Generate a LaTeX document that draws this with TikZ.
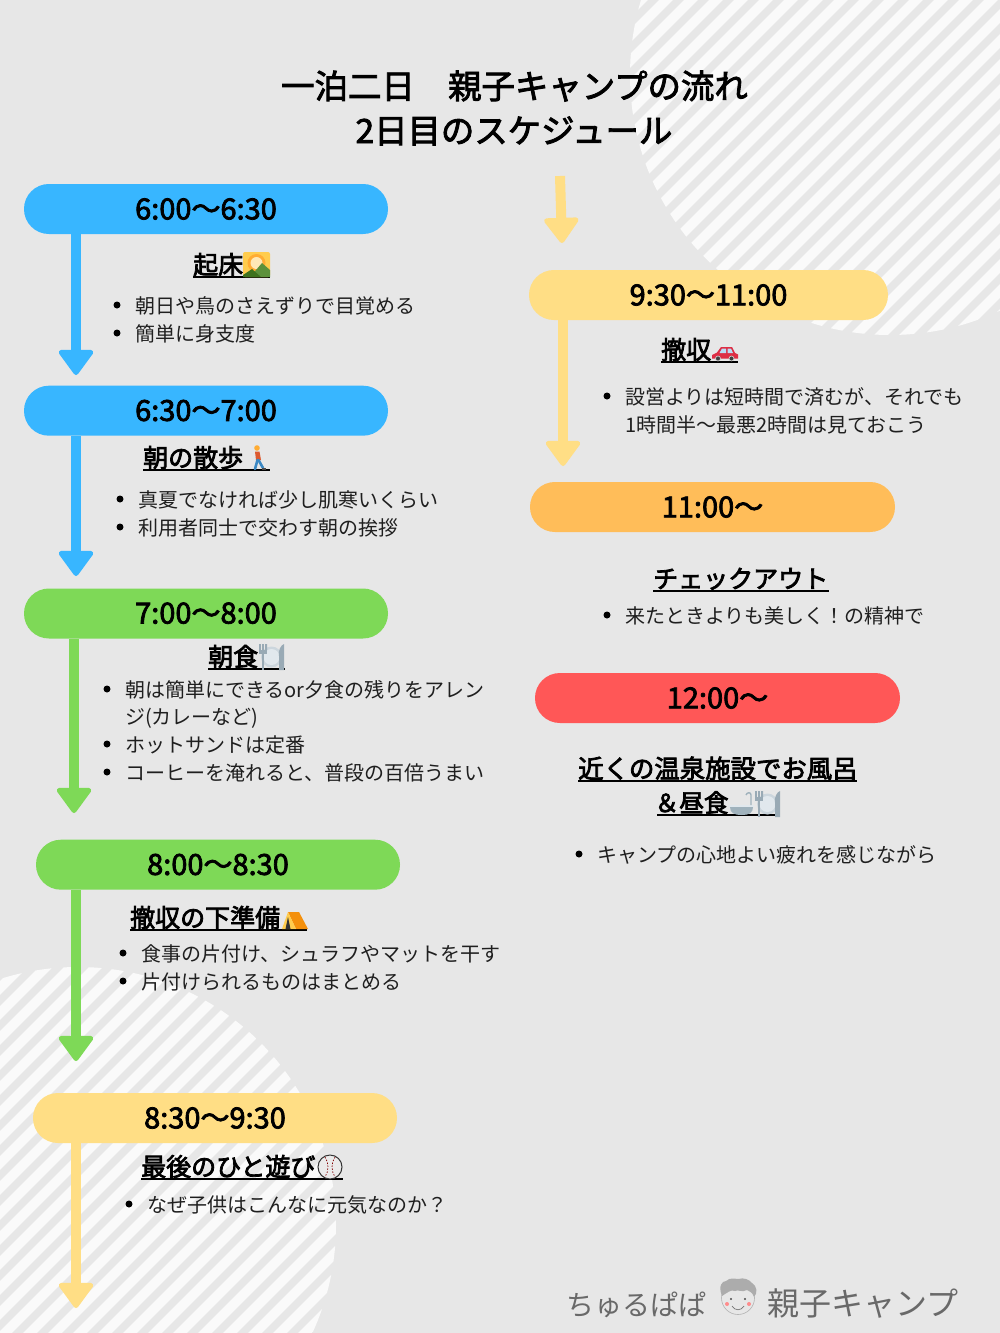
\documentclass[tikz,border=0pt]{standalone}
\usepackage{fontspec}
\usetikzlibrary{arrows.meta}
\setmainfont{Noto Sans CJK JP}
\newfontfamily\jpb{Noto Sans CJK JP}[FakeBold=3]
\newfontfamily\jpm{Noto Sans CJK JP}[FakeBold=2.6]
\newfontfamily\jpr{Noto Sans CJK JP}
\definecolor{bgc}{HTML}{E7E7E7}
\definecolor{stripec}{HTML}{FAFAFA}
\definecolor{cblue}{HTML}{38B6FF}
\definecolor{cgreen}{HTML}{7ED957}
\definecolor{cyellow}{HTML}{FFDE85}
\definecolor{corange}{HTML}{FFBD59}
\definecolor{cred}{HTML}{FF5757}
\definecolor{logoc}{HTML}{696969}
\definecolor{cutl}{HTML}{99AAB5}
\definecolor{platea}{HTML}{CCD6DD}
\definecolor{plateb}{HTML}{E1E8ED}
\definecolor{esun}{HTML}{FFCC4D}
\definecolor{eray}{HTML}{FFAC33}
\definecolor{epale}{HTML}{FFE8B6}
\definecolor{ehilla}{HTML}{5C913B}
\definecolor{ehillb}{HTML}{3E721D}
\definecolor{ewalk}{HTML}{DD5A2F}
\definecolor{eblue}{HTML}{3B88C3}
\definecolor{etent}{HTML}{F4900C}
\definecolor{ecar}{HTML}{DD2E44}
\definecolor{ewin}{HTML}{BBDDF5}
\definecolor{ebath}{HTML}{A0B2BC}
\tikzset{
  pill/.style={rectangle,rounded corners=24.9pt,minimum width=364pt,minimum height=50pt,inner sep=0pt,font=\jpm\fontsize{29}{30}\selectfont},
  flow/.style={line width=10pt,-{Triangle[round,length=27pt,width=38pt,line width=5pt]}},
  head/.style={anchor=base west,inner sep=0pt,font=\jpb\fontsize{25}{28}\selectfont},
  body/.style={anchor=base west,inner sep=0pt,text=black!88,font=\jpr\fontsize{20}{24}\selectfont},
  dotn/.style={circle,fill=black,inner sep=0pt,minimum size=7pt},
  titlet/.style={inner sep=0pt,font=\jpm\fontsize{33.4}{36}\selectfont},
  logot/.style={anchor=base west,inner sep=0pt,text=logoc},
  stripe/.style={stripec,line width=9.8pt}
}
\newcommand\hul[2]{\rlap{\rule[-4pt]{#1pt}{1.7pt}}#2}
\newcommand\bitem[5]{\node[dotn] (#1d) at (#2,#4) {};\node[body] (#1) at (#3,#4+8) {#5};}
\newcommand\plateico[2]{%
  \begin{scope}[shift={(#1,#2)}]
    \fill[platea] (13.5,657) circle (10.5);
    \fill[plateb] (13.5,657) circle (8);
    \fill[cutl] (1,644) rectangle (2.8,650) (4.1,644) rectangle (5.9,650) (7.2,644) rectangle (9,650);
    \fill[cutl] (1,650) rectangle (9,654);
    \fill[cutl] (3.7,653) rectangle (6.3,670);
    \fill[cutl] (21,670) -- (21,656) .. controls (20,650) and (23,645) .. (26,644) -- (26,670) -- cycle;
  \end{scope}}
\begin{document}
\begin{tikzpicture}[x=1pt,y=-1pt]
\useasboundingbox (0,0) rectangle (1000,1333);
\fill[bgc] (0,0) rectangle (1000,1333);
% striped discs
\begin{scope}
  \clip (0,0) rectangle (1000,1333);
  \begin{scope}
    \clip (890,75) circle (260);
    \foreach \cc in {591,616,...,1391} \draw[stripe] (\cc+100,-100) -- (\cc-500,500);
  \end{scope}
  \begin{scope}
    \clip (78,1225) circle (258);
    \foreach \cc in {788,813,...,1788} \draw[stripe] (\cc-700,700) -- (\cc-1700,1700);
  \end{scope}
\end{scope}
% title
\node[titlet] (title1) at (514.5,86) {一泊二日　親子キャンプの流れ};
\node[titlet] (title2) at (514,131) {2日目のスケジュール};
% pills
\node[pill,fill=cblue] (p1) at (206,209) {6:00〜6:30};
\node[pill,fill=cblue] (p2) at (206,410.7) {\raisebox{.7pt}{6:30〜7:00}};
\node[pill,fill=cgreen] (p3) at (206,613.5) {\raisebox{1pt}{7:00〜8:00}};
\node[pill,fill=cgreen] (p4) at (218,864.7) {\raisebox{.7pt}{8:00〜8:30}};
\node[pill,fill=cyellow] (p5) at (215,1118) {8:30〜9:30};
\node[pill,fill=cyellow,minimum width=359pt] (p6) at (708.5,295) {9:30〜11:00};
\node[pill,fill=corange,minimum width=365pt] (p7) at (712.5,507) {11:00〜};
\node[pill,fill=cred,minimum width=365pt] (p8) at (717.5,698) {12:00〜};
% connectors
\coordinate (e1) at (76,375);
\coordinate (e2) at (76,576);
\coordinate (e3) at (74,813);
\coordinate (e4) at (76,1061);
\coordinate (e5) at (76,1308);
\coordinate (s6) at (560,176);
\coordinate (e6) at (562,243);
\coordinate (e7) at (563,466);
\draw[flow,cblue] (p1.south -| e1) -- (e1);
\draw[flow,cblue] (p2.south -| e2) -- (e2);
\draw[flow,cgreen] (p3.south -| e3) -- (e3);
\draw[flow,cgreen] (p4.south -| e4) -- (e4);
\draw[flow,cyellow] (p5.south -| e5) -- (e5);
\draw[flow,cyellow] (s6) -- (e6);
\draw[flow,cyellow] (p6.south -| e7) -- (e7);
% headings
\node[head] (h1) at (193,274) {\hul{77}{起床}};
\node[head] (h2) at (143,467) {\hul{127}{朝の散歩}};
\node[head] (h3) at (208,666) {\hul{77}{朝食}};
\node[head] (h4) at (130,927) {\hul{177}{撤収の下準備}};
\node[head] (h5) at (141,1176) {\hul{202}{最後のひと遊び}};
\node[head] (h6) at (661,359) {\hul{77}{撤収}};
\node[head] (h7) at (653,588) {\hul{176}{チェックアウト}};
\node[head,font=\jpb\fontsize{25.4}{28}\selectfont] (h8) at (578,778) {\hul{279}{近くの温泉施設でお風呂}};
\node[head,font=\jpb\fontsize{24.7}{28}\selectfont] (h9) at (657,812) {\hul{123}{\kern-2.7pt ＆昼食}};
% bullets
\bitem{a1}{117}{135}{305}{朝日や鳥のさえずりで目覚める}
\bitem{a2}{117}{135}{333}{簡単に身支度}
\bitem{b1}{120}{138}{499}{真夏でなければ少し肌寒いくらい}
\bitem{b2}{120}{138}{527}{利用者同士で交わす朝の挨拶}
\bitem{c1}{107}{125}{689}{朝は簡単にできるor夕食の残りをアレン}
\node[body] (c1b) at (125,724) {ジ(カレーなど)};
\bitem{c2}{107}{125}{744}{ホットサンドは定番}
\bitem{c3}{107}{125}{772}{コーヒーを淹れると、普段の百倍うまい}
\bitem{d1}{123}{141}{953}{食事の片付け、シュラフやマットを干す}
\bitem{d2}{123}{141}{981}{片付けられるものはまとめる}
\bitem{e1t}{129}{147}{1204}{なぜ子供はこんなに元気なのか？}
\bitem{f1}{607}{625}{396}{設営よりは短時間で済むが、それでも}
\node[body] (f1b) at (625,432) {1時間半～最悪2時間は見ておこう};
\bitem{g1}{607}{625}{615}{来たときよりも美しく！の精神で}
\bitem{i1}{579}{597}{854}{キャンプの心地よい疲れを感じながら}
% emoji: sunrise over mountains
\fill[esun,rounded corners=2pt] (243,252) rectangle (270,277);
\fill[eray] (256.5,263) circle (9);
\fill[epale] (256.5,263) circle (6);
\fill[ehilla] (250,277) -- (262,263) -- (270,270) -- (270,277) -- cycle;
\fill[ehillb] (243,277) -- (243,275) -- (252,269) -- (261,277) -- cycle;
% emoji: walking person
\fill[eray] (257,448) circle (2.8);
\fill[ewalk] (255,451.5) -- (259.5,451.5) -- (261,460) -- (256,460) -- cycle;
\draw[eblue,line width=2.6pt,line cap=round] (257.5,460) -- (255,469);
\draw[eblue,line width=2.6pt,line cap=round] (258.5,460) -- (263,468);
\fill[black!70] (262,468) rectangle (266,470);
% emoji: plate and cutlery
\plateico{258}{0}
% emoji: tent
\fill[etent] (288,912) -- (299,912) -- (308,929) -- (296,929) -- cycle;
\fill[esun] (288,912) -- (296,929) -- (282,929) -- cycle;
\fill[black!80] (288,917) -- (290.5,929) -- (285.5,929) -- cycle;
% emoji: car
\fill[ecar] (712,358.5) -- (712,355) -- (717,352.5) -- (721,347) -- (732,347) -- (735,353) -- (738,354.5) -- (738,358.5) -- cycle;
\fill[ewin] (722,348.5) -- (726,348.5) -- (726,353) -- (719.5,353) -- cycle (727.5,348.5) -- (731,348.5) -- (733,353) -- (727.5,353) -- cycle;
\filldraw[fill=black!75,draw=gray!30,line width=.6pt] (718,358.5) circle (2.5) (731.5,358.5) circle (2.5);
% emoji: bath and cutlery
\fill[ebath] (730,807) -- (753,807) .. controls (753,813) and (749,815) .. (742,815) .. controls (734,815) and (730,813) .. (730,807) -- cycle;
\fill[plateb] (729,804.5) rectangle (754,807);
\draw[ebath,line width=1.4pt] (751,805) -- (751,795) .. controls (751,792) and (747,792) .. (746,795);
\plateico{754}{147}
% emoji: baseball
\filldraw[fill=white!92!black,draw=black!80,line width=1pt] (330,1167) circle (12);
\draw[red!50!black,line width=.7pt,dash pattern=on 1.5pt off 1.5pt] (325,1157) .. controls (329,1163) and (329,1171) .. (325,1177);
\draw[red!50!black,line width=.7pt,dash pattern=on 1.5pt off 1.5pt] (335,1157) .. controls (331,1163) and (331,1171) .. (335,1177);
% logo
\node[logot,font=\jpr\fontsize{28}{30}\selectfont] (l1) at (566,1315) {ちゅるぱぱ};
\node[logot,font=\jpr\fontsize{32}{34}\selectfont] (l2) at (767,1315) {親子キャンプ};
\filldraw[fill=bgc,draw=gray!60,line width=.6pt] (738,1298) circle (16.5);
\fill[gray!65] (722,1296) .. controls (718,1286) and (722,1281) .. (726,1281) .. controls (730,1277) and (736,1279) .. (738,1279) .. controls (744,1277) and (750,1280) .. (752,1283) .. controls (757,1286) and (758,1293) .. (754,1297) .. controls (752,1291) and (749,1292) .. (747,1290) .. controls (742,1293) and (738,1289) .. (735,1291) .. controls (731,1289) and (727,1293) .. (722,1296) -- cycle;
\fill[black!70] (731,1299) circle (1.1) (745,1299) circle (1.1);
\fill[red!45] (727,1304) circle (2) (749,1304) circle (2);
\draw[black!55,line width=.7pt] (732,1306) .. controls (735,1311) and (741,1311) .. (744,1306);
\end{tikzpicture}
\end{document}
